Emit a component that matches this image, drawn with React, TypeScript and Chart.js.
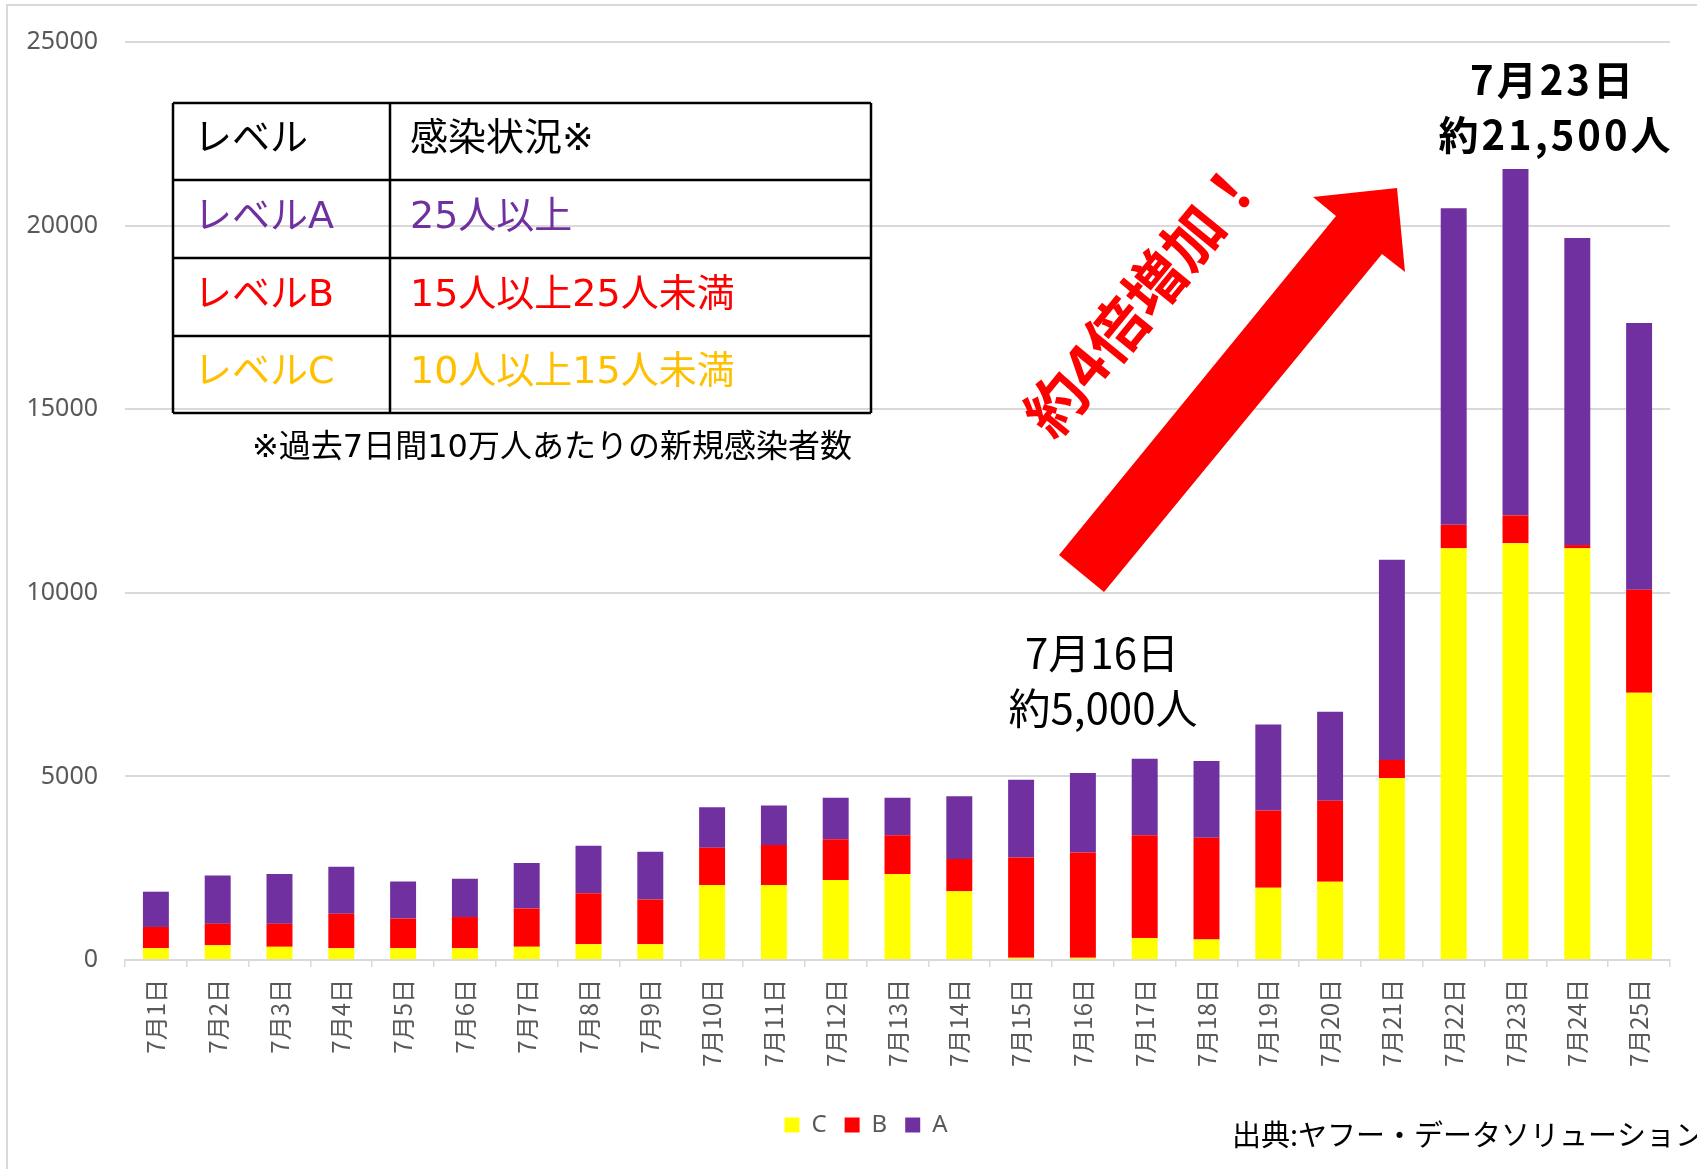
import React, { useEffect, useRef } from "react";
import { Chart, registerables } from "chart.js";

Chart.register(...registerables);

// ---- data ----
const categories = [
  "7月1日", "7月2日", "7月3日", "7月4日", "7月5日", "7月6日", "7月7日", "7月8日", "7月9日",
  "7月10日", "7月11日", "7月12日", "7月13日", "7月14日", "7月15日", "7月16日", "7月17日",
  "7月18日", "7月19日", "7月20日", "7月21日", "7月22日", "7月23日", "7月24日", "7月25日",
];
const seriesNames = ["C", "B", "A"];
const levelC = [320, 400, 360, 320, 320, 320, 360, 430, 430, 2040, 2040, 2180, 2340, 1870, 60, 60, 600, 560, 1970, 2130, 4950, 11210, 11350, 11210, 7280];
const levelB = [580, 590, 630, 940, 810, 850, 1040, 1390, 1220, 1020, 1090, 1110, 1060, 880, 2730, 2870, 2800, 2770, 2100, 2210, 500, 640, 760, 90, 2800];
const levelA = [960, 1310, 1350, 1280, 1010, 1040, 1240, 1290, 1300, 1100, 1080, 1130, 1020, 1710, 2120, 2160, 2080, 2090, 2340, 2420, 5450, 8620, 9430, 8360, 7270];
const yTicks = [0, 5000, 10000, 15000, 20000, 25000];

const tableHeader = ["レベル", "感染状況※"];
const tableLevels = ["レベルA", "レベルB", "レベルC"];
const tableConditions = ["25人以上", "15人以上25人未満", "10人以上15人未満"];
const tableNote = "※過去7日間10万人あたりの新規感染者数";
const noteJul16 = ["7月16日", "約5,000人"];
const noteJul23 = ["7月23日", "約21,500人"];
const arrowText = "約4倍増加！";
const sourceText = "出典:ヤフー・データソリューション";

// ---- styles ----
const COLORS = ["#FFFF00", "#FF0000", "#7030A0"];
const TABLE_TEXT_COLORS = ["#7030A0", "#FF0000", "#FFC000"];
const GRID = "#d9d9d9";
const TICK_COLOR = "#595959";
const CJK = "'Noto Sans CJK JP', 'Noto Sans CJK SC', sans-serif";
const TABLE_FONT = "'DejaVu Sans', 'Noto Sans CJK JP', sans-serif";
const LEGEND_SHIFT = 31;

const annotationPlugin = {
  id: "annotations",
  afterLayout(chart: any) {
    const lg = chart.legend;
    if (lg) {
      lg.left += LEGEND_SHIFT;
      lg.right += LEGEND_SHIFT;
    }
  },
  beforeDraw(chart: any) {
    const ctx = chart.ctx;
    ctx.save();
    ctx.fillStyle = "#ffffff";
    ctx.fillRect(0, 0, chart.width, chart.height);
    ctx.restore();
  },
  afterDraw(chart: any) {
    const ctx: CanvasRenderingContext2D = chart.ctx;
    ctx.save();

    // outer frame (top & left)
    ctx.strokeStyle = "#d9d9d9";
    ctx.lineWidth = 2;
    ctx.beginPath();
    ctx.moveTo(7, chart.height);
    ctx.lineTo(7, 5);
    ctx.lineTo(chart.width, 5);
    ctx.stroke();

    // table
    const tL = 173, tR = 871, colX = 390;
    const rowYs = [103, 180, 258, 336, 413];
    ctx.strokeStyle = "#000";
    ctx.lineWidth = 2.5;
    ctx.beginPath();
    rowYs.forEach((y) => { ctx.moveTo(tL, y); ctx.lineTo(tR, y); });
    [tL, colX, tR].forEach((x) => { ctx.moveTo(x, rowYs[0]); ctx.lineTo(x, rowYs[rowYs.length - 1]); });
    ctx.stroke();

    ctx.textBaseline = "middle";
    ctx.textAlign = "left";
    ctx.font = `38px ${TABLE_FONT}`;
    const rowCenter = (i: number) => (rowYs[i] + rowYs[i + 1]) / 2 - 1;
    ctx.fillStyle = "#000";
    ctx.fillText(tableHeader[0], 194, rowCenter(0));
    ctx.fillText(tableHeader[1], 410, rowCenter(0));
    tableLevels.forEach((t, i) => {
      ctx.fillStyle = TABLE_TEXT_COLORS[i];
      ctx.fillText(t, 194, rowCenter(i + 1));
      ctx.fillText(tableConditions[i], 410, rowCenter(i + 1));
    });
    ctx.fillStyle = "#000";
    ctx.textAlign = "center";
    ctx.font = `32px ${TABLE_FONT}`;
    ctx.fillText(tableNote, 552, 449);

    // red arrow
    ctx.fillStyle = "#FF0000";
    ctx.beginPath();
    ctx.moveTo(1059, 555);
    ctx.lineTo(1336, 216);
    ctx.lineTo(1313, 197);
    ctx.lineTo(1397, 188);
    ctx.lineTo(1405, 272);
    ctx.lineTo(1382, 254);
    ctx.lineTo(1104, 592);
    ctx.closePath();
    ctx.fill();

    // rotated arrow text
    ctx.save();
    ctx.translate(1143, 297);
    ctx.rotate((-50.7 * Math.PI) / 180);
    ctx.font = `bold 60px ${CJK}`;
    ctx.textAlign = "center";
    ctx.textBaseline = "middle";
    ctx.fillText(arrowText, 0, 0);
    ctx.restore();

    // 7/16 note
    ctx.fillStyle = "#000";
    ctx.textAlign = "center";
    ctx.textBaseline = "middle";
    ctx.font = `42px ${CJK}`;
    ctx.fillText(noteJul16[0], 1102, 653);
    ctx.fillText(noteJul16[1], 1103, 708);

    // 7/23 note
    ctx.font = `bold 40px ${CJK}`;
    (ctx as any).letterSpacing = "3px";
    ctx.fillText(noteJul23[0], 1553, 80);
    ctx.fillText(noteJul23[1], 1556, 135);
    (ctx as any).letterSpacing = "0px";

    // source
    ctx.textAlign = "left";
    ctx.font = `29px ${CJK}`;
    ctx.fillText(sourceText, 1232, 1135);

    ctx.restore();
  },
};

export default function App() {
  const canvasRef = useRef<HTMLCanvasElement | null>(null);

  useEffect(() => {
    if (!canvasRef.current) return;
    const datasets = [levelC, levelB, levelA].map((data, i) => ({
      label: seriesNames[i],
      data,
      backgroundColor: COLORS[i],
      borderWidth: 0,
      categoryPercentage: 1,
      barPercentage: 0.42,
    }));
    const chart = new Chart(canvasRef.current, {
      type: "bar",
      data: { labels: categories, datasets },
      options: {
        responsive: false,
        animation: false,
        devicePixelRatio: 1,
        layout: { padding: { left: 0, right: 50, top: 40, bottom: 22 } },
        plugins: {
          legend: {
            position: "bottom",
            labels: {
              boxWidth: 15,
              boxHeight: 15,
              padding: 18,
              color: TICK_COLOR,
              font: { family: "'Noto Sans', sans-serif", size: 24 },
            },
          },
          tooltip: { enabled: false },
        },
        scales: {
          x: {
            stacked: true,
            grid: {
              display: true,
              drawOnChartArea: false,
              drawTicks: true,
              tickLength: 7,
              color: GRID,
              lineWidth: 1.5,
            },
            border: { display: true, color: GRID, width: 2 },
            ticks: {
              minRotation: 90,
              maxRotation: 90,
              autoSkip: false,
              padding: 12,
              color: TICK_COLOR,
              font: { family: CJK, size: 24 },
            },
            afterFit: (s: any) => { s.height = 135; },
          },
          y: {
            stacked: true,
            min: yTicks[0],
            max: yTicks[yTicks.length - 1],
            ticks: {
              stepSize: yTicks[1] - yTicks[0],
              padding: 27,
              color: TICK_COLOR,
              font: { family: "'Noto Sans', sans-serif", size: 25 },
              callback: (v: any) => String(v),
            },
            grid: { color: GRID, lineWidth: 2, drawTicks: false },
            border: { display: false },
            afterFit: (s: any) => { s.width = 125; },
          },
        },
      } as any,
      plugins: [annotationPlugin],
    });
    return () => chart.destroy();
  }, []);

  return (
    <div
      style={{
        position: "absolute",
        left: 0,
        top: 0,
        width: 1697,
        height: 1169,
        overflow: "hidden",
        background: "#fff",
      }}
    >
      <canvas ref={canvasRef} width={1720} height={1169} style={{ display: "block" }} />
    </div>
  );
}
